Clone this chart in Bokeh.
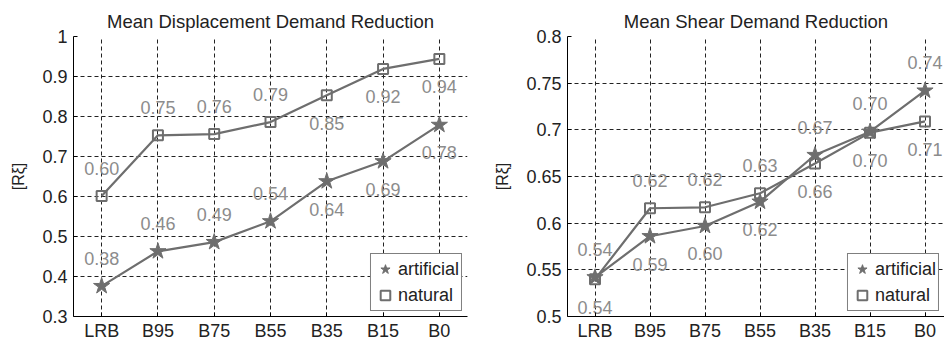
from bokeh.plotting import figure
from bokeh.layouts import row
from bokeh.models import (FixedTicker, CustomJSTickFormatter, Range1d, Legend,
                          LegendItem, ColumnDataSource)
from bokeh.core.properties import value
from bokeh.embed import file_html
from bokeh.resources import INLINE

# ---------------- data ----------------
categories = ["LRB", "B95", "B75", "B55", "B35", "B15", "B0"]

disp_artificial = [0.376, 0.463, 0.486, 0.538, 0.638, 0.688, 0.779]
disp_natural = [0.601, 0.753, 0.756, 0.786, 0.853, 0.919, 0.944]

shear_artificial = [0.542, 0.586, 0.597, 0.623, 0.673, 0.698, 0.742]
shear_natural = [0.540, 0.616, 0.617, 0.632, 0.664, 0.697, 0.709]

disp_yticks = [0.3, 0.4, 0.5, 0.6, 0.7, 0.8, 0.9, 1.0]
shear_yticks = [0.5, 0.55, 0.6, 0.65, 0.7, 0.75, 0.8]

# which side of the point each value label sits on (1 above, -1 below)
disp_artificial_side = [1, 1, 1, 1, -1, -1, -1]
disp_natural_side = [1, 1, 1, 1, -1, -1, -1]
shear_artificial_side = [1, -1, -1, -1, 1, 1, 1]
shear_natural_side = [-1, 1, 1, 1, -1, -1, -1]

FONT = "Liberation Sans"
LINE_C = "#6e6e6e"
LABEL_C = "#8c8c8c"
TEXT_C = "#222222"


def make_fig(title, art, nat, art_side, nat_side, yticks, x_end, frame_w,
             border_left, border_right, title_offset):
    p = figure(frame_width=frame_w, frame_height=280, output_backend="svg",
               toolbar_location=None,
               x_range=Range1d(0.5, x_end),
               y_range=Range1d(yticks[0], yticks[-1]),
               min_border_left=border_left, min_border_right=border_right,
               min_border_top=36, min_border_bottom=26)
    p.outline_line_color = None
    p.background_fill_color = "white"
    p.border_fill_color = "white"

    # title
    p.title.text = title
    p.title.align = "center"
    p.title.offset = title_offset
    p.title.text_font = FONT
    p.title.text_font_size = "18.5px"
    p.title.text_font_style = "normal"
    p.title.text_color = TEXT_C
    p.title.standoff = 9

    xs = list(range(1, len(categories) + 1))

    # axes
    p.xaxis.ticker = FixedTicker(ticks=xs)
    p.xaxis.major_label_overrides = {i + 1: c for i, c in enumerate(categories)}
    p.yaxis.ticker = FixedTicker(ticks=yticks)
    p.yaxis.formatter = CustomJSTickFormatter(
        code="return String(parseFloat(tick.toFixed(2)));")
    for ax in (p.xaxis[0], p.yaxis[0]):
        ax.axis_line_color = "black"
        ax.axis_line_width = 1
        ax.major_tick_line_color = "black"
        ax.major_tick_in = 4
        ax.major_tick_out = 0
        ax.minor_tick_line_color = None
        ax.major_label_text_font = FONT
        ax.major_label_text_font_size = "18px"
        ax.major_label_text_color = TEXT_C
    p.xaxis.major_label_standoff = 4
    p.yaxis.major_label_standoff = 6
    p.yaxis.axis_label = "[R\u03be]"
    p.yaxis.axis_label_text_font = FONT
    p.yaxis.axis_label_text_font_size = "16px"
    p.yaxis.axis_label_text_font_style = "normal"
    p.yaxis.axis_label_text_color = TEXT_C
    p.yaxis.axis_label_standoff = 12

    # grid
    p.xgrid.ticker = FixedTicker(ticks=xs)
    p.ygrid.ticker = FixedTicker(ticks=yticks)
    for g in (p.xgrid[0], p.ygrid[0]):
        g.grid_line_color = "#222222"
        g.grid_line_dash = "4 3"
        g.grid_line_width = 1

    src_a = ColumnDataSource(dict(x=xs, y=art,
                                  lab=[f"{v:.2f}" for v in art],
                                  off=[-28 * s for s in art_side]))
    src_n = ColumnDataSource(dict(x=xs, y=nat,
                                  lab=[f"{v:.2f}" for v in nat],
                                  off=[-28 * s for s in nat_side]))

    p.line("x", "y", source=src_n, line_color=LINE_C, line_width=2.2)
    p.line("x", "y", source=src_a, line_color=LINE_C, line_width=2.2)
    r_n = p.scatter("x", "y", source=src_n, marker="square", size=10,
                    fill_color=None, line_color=LINE_C, line_width=2)
    r_a = p.scatter("x", "y", source=src_a, marker="star", size=17,
                    fill_color=LINE_C, line_color=LINE_C, line_width=1)

    for src in (src_a, src_n):
        p.text("x", "y", text="lab", source=src, y_offset="off",
               text_font=value(FONT), text_font_size="18px",
               text_color=LABEL_C, text_align="center",
               text_baseline="middle")

    legend = Legend(items=[LegendItem(label="artificial", renderers=[r_a]),
                           LegendItem(label="natural", renderers=[r_n])],
                    location="bottom_right")
    legend.border_line_color = "black"
    legend.border_line_width = 1.5
    legend.background_fill_color = "white"
    legend.background_fill_alpha = 1
    legend.margin = 5
    legend.padding = 2
    legend.spacing = -4
    legend.label_text_font = FONT
    legend.label_text_font_size = "18px"
    legend.label_text_color = TEXT_C
    legend.label_height = 24
    legend.glyph_height = 26
    legend.glyph_width = 24
    legend.label_standoff = 1
    p.add_layout(legend)
    return p


p1 = make_fig("Mean Displacement Demand Reduction", disp_artificial,
              disp_natural, disp_artificial_side, disp_natural_side,
              disp_yticks, 7.5, 394, 73, 3, 0)
p2 = make_fig("Mean Shear Demand Reduction", shear_artificial,
              shear_natural, shear_artificial_side, shear_natural_side,
              shear_yticks, 0.5 + 377 / 55.0, 377, 97, 0, 4)

layout = row(p1, p2, spacing=0)
open("out.html", "w").write(file_html(layout, INLINE))
